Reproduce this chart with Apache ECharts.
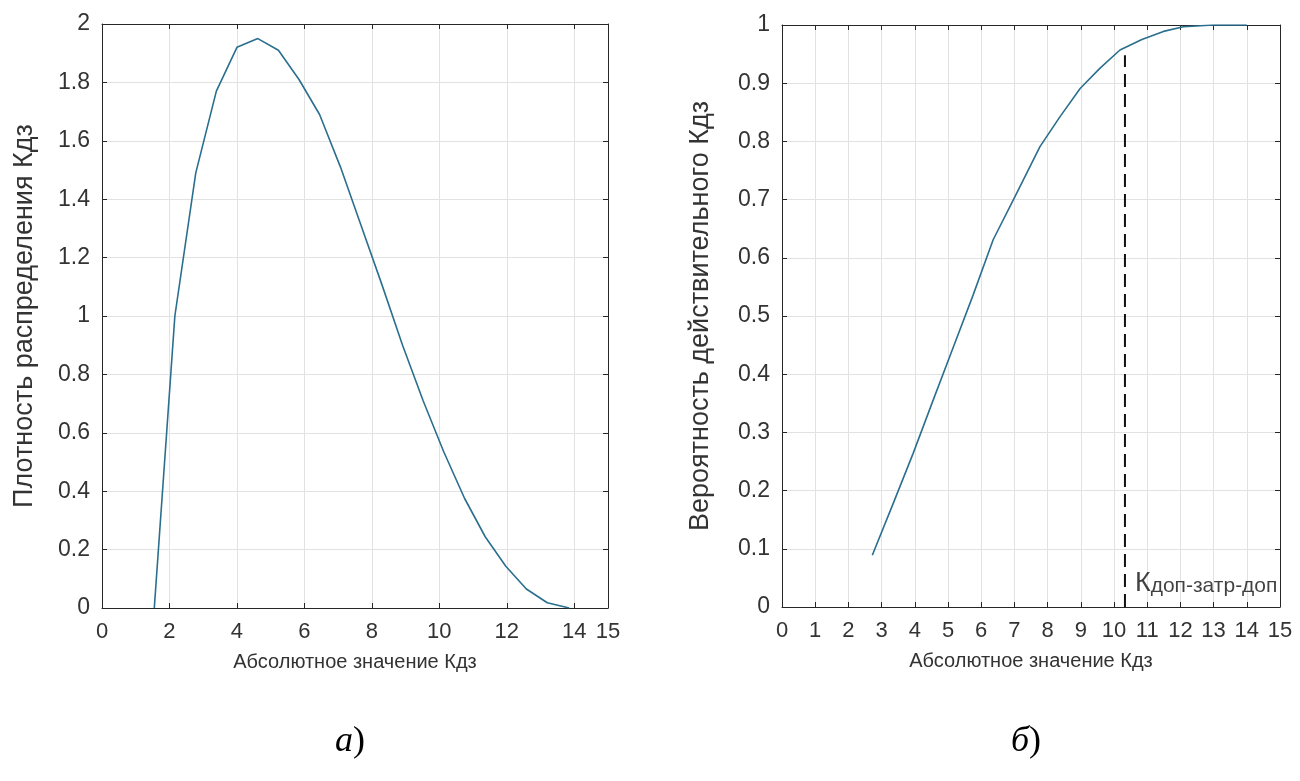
<!DOCTYPE html>
<html>
<head>
<meta charset="utf-8">
<script src="https://cdn.jsdelivr.net/npm/echarts@6/dist/echarts.min.js"></script>
<style>
  html, body { margin: 0; padding: 0; background: #fff; }
  #chart { width: 1300px; height: 781px; }
</style>
</head>
<body>
<div id="chart"></div>
<script>
// (а) distribution density of Кдз
const densX = [1.55, 2.16, 2.78, 3.39, 4.0, 4.62, 5.23, 5.84, 6.45, 7.07, 7.68, 8.29, 8.91, 9.52, 10.13, 10.75, 11.36, 11.97, 12.58, 13.2, 13.85];
const densY = [0, 1.0, 1.49, 1.77, 1.92, 1.95, 1.91, 1.81, 1.69, 1.51, 1.31, 1.11, 0.9, 0.71, 0.535, 0.375, 0.244, 0.143, 0.065, 0.018, 0];

// (б) probability of the actual Кдз
const cdfX = [2.72, 3.35, 3.95, 4.55, 5.15, 5.75, 6.36, 7.07, 7.77, 8.38, 8.98, 9.58, 10.18, 10.84, 11.49, 12.09, 13.0, 14.0];
const cdfY = [0.089, 0.178, 0.264, 0.355, 0.445, 0.535, 0.631, 0.711, 0.791, 0.843, 0.891, 0.926, 0.957, 0.975, 0.989, 0.997, 1.0, 1.0];

// permissible level marker
const limitX = [10.33, 10.33];
const limitY = [0, 0.948];
const limitText = ['К', 'доп-затр-доп'];

// axis titles and panel captions
const xTitle = 'Абсолютное значение Кдз';
const yTitleLeft = 'Плотность распределения Кдз';
const yTitleRight = 'Вероятность действительного Кдз';
const panelCaps = ['а', 'б'];

const zip = (xs, ys) => xs.map((x, i) => [x, ys[i]]);

const INK = '#262626';
const TXT = '#333333';
const GRIDC = '#e2e2e2';
const LINEC = '#2a6f8e';
const FONT = '"Liberation Sans", Arial, sans-serif';
const SERIF = '"Liberation Serif", "Times New Roman", serif';

function xAxisPair(gridIndex, interval) {
  const base = {
    type: 'value', gridIndex, min: 0, max: 15, interval,
    axisLine: { show: true, onZero: false, lineStyle: { color: INK, width: 1 } },
    axisTick: { show: true, inside: true, length: 5, lineStyle: { color: INK } }
  };
  return [
    Object.assign({}, base, {
      position: 'bottom',
      name: xTitle, nameLocation: 'middle', nameGap: 44,
      nameTextStyle: { fontFamily: FONT, fontSize: 20, color: TXT },
      axisLabel: { fontFamily: FONT, fontSize: 22, color: TXT, margin: 13, showMinLabel: true, showMaxLabel: true },
      splitLine: { show: true, lineStyle: { color: GRIDC, width: 1 } }
    }),
    Object.assign({}, base, {
      position: 'top',
      axisLabel: { show: false },
      splitLine: { show: false }
    })
  ];
}

function yAxisPair(gridIndex, max, interval, title, gap) {
  const base = {
    type: 'value', gridIndex, min: 0, max, interval,
    axisLine: { show: true, onZero: false, lineStyle: { color: INK, width: 1 } },
    axisTick: { show: true, inside: true, length: 5, lineStyle: { color: INK } }
  };
  return [
    Object.assign({}, base, {
      position: 'left',
      name: title, nameLocation: 'middle', nameGap: gap,
      nameTextStyle: { fontFamily: FONT, fontSize: 27, color: TXT },
      axisLabel: { fontFamily: FONT, fontSize: 23, color: TXT, margin: 12, showMinLabel: true, showMaxLabel: true },
      splitLine: { show: true, lineStyle: { color: GRIDC, width: 1 } }
    }),
    Object.assign({}, base, {
      position: 'right',
      axisLabel: { show: false },
      splitLine: { show: false }
    })
  ];
}

function caption(cx, letter) {
  return {
    type: 'text', left: cx - 20, top: 724,
    style: {
      text: '{i|' + letter + '}{p|)}',
      rich: {
        i: { fontFamily: SERIF, fontStyle: 'italic', fontSize: 36, fill: '#000' },
        p: { fontFamily: SERIF, fontSize: 36, fill: '#000' }
      }
    }
  };
}

const chart = echarts.init(document.getElementById('chart'), null, { renderer: 'canvas' });

chart.setOption({
  backgroundColor: '#ffffff',
  animation: false,
  grid: [
    { left: 102, top: 24, width: 506, height: 584 },
    { left: 782, top: 25, width: 498, height: 582 }
  ],
  xAxis: [...xAxisPair(0, 2), ...xAxisPair(1, 1)],
  yAxis: [...yAxisPair(0, 2, 0.2, yTitleLeft, 64), ...yAxisPair(1, 1, 0.1, yTitleRight, 68)],
  series: [
    {
      type: 'line', xAxisIndex: 0, yAxisIndex: 0,
      data: zip(densX, densY),
      symbol: 'none', smooth: false,
      lineStyle: { color: LINEC, width: 1.6 }
    },
    {
      type: 'line', xAxisIndex: 2, yAxisIndex: 2,
      data: zip(cdfX, cdfY),
      symbol: 'none', smooth: false,
      lineStyle: { color: LINEC, width: 1.6 }
    },
    {
      type: 'line', xAxisIndex: 2, yAxisIndex: 2,
      data: zip(limitX, limitY),
      symbol: 'none',
      lineStyle: { color: '#111', width: 2, type: [13, 7] },
      z: 3
    },
    {
      type: 'scatter', xAxisIndex: 2, yAxisIndex: 2,
      data: [[limitX[0], limitY[0]]],
      symbolSize: 0,
      silent: true,
      label: {
        show: true,
        position: 'right',
        distance: 10,
        offset: [0, -24],
        formatter: '{k|' + limitText[0] + '}{s|' + limitText[1] + '}',
        rich: {
          k: { fontFamily: FONT, fontSize: 27, color: '#111', lineHeight: 28, verticalAlign: 'bottom' },
          s: { fontFamily: FONT, fontSize: 21, color: '#111', lineHeight: 21, verticalAlign: 'bottom' }
        }
      },
      z: 4
    }
  ],
  graphic: [caption(355, panelCaps[0]), caption(1031, panelCaps[1])]
});
</script>
</body>
</html>
